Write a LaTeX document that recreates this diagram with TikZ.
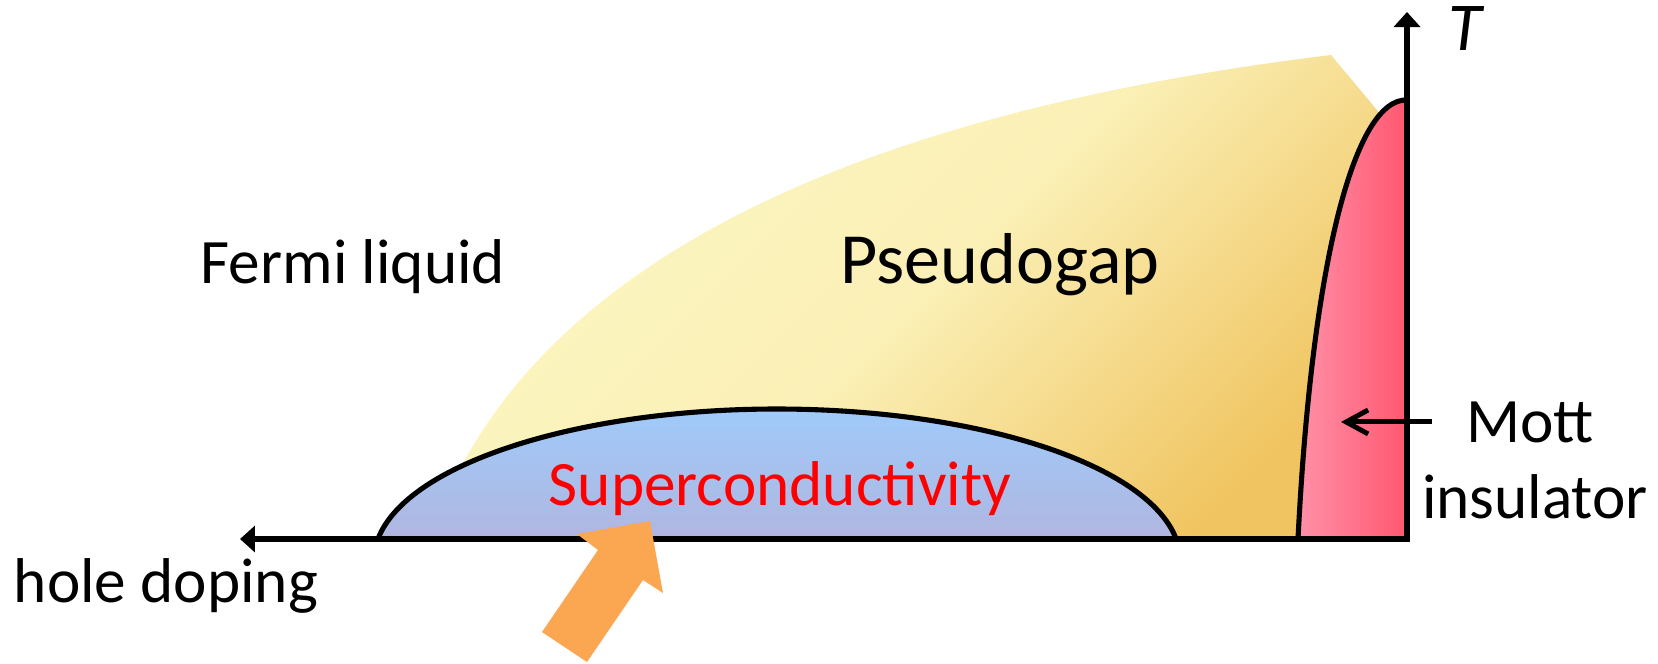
\documentclass[tikz,border=0pt]{standalone}
\usepackage{fontspec}
\setmainfont{Carlito}
\usepackage{tikz}
\usetikzlibrary{arrows.meta}
\definecolor{mylight}{RGB}{252,246,194}
\definecolor{mydark}{RGB}{240,196,96}
\definecolor{mysky}{RGB}{158,204,252}
\definecolor{mylilac}{RGB}{176,182,224}
\definecolor{mypink}{RGB}{255,144,168}
\definecolor{myrose}{RGB}{255,88,112}
\definecolor{myorange}{RGB}{251,167,82}
\definecolor{myred}{RGB}{255,0,0}

\begin{document}
\begin{tikzpicture}[font=\fontsize{18}{22}\selectfont,
  every node/.style={inner sep=0pt},
  phase/.style={draw=black,line width=1.45pt}]
  \useasboundingbox (-14.07,-1.24) rectangle (2.51,5.39);
  % pseudogap region
  \shade[top color=mylight,bottom color=mydark,middle color=mylight!88!mydark,shading angle=45]
    (-9.77,0) .. controls (-8.8,2.9) and (-5.2,4.3) .. (-0.76,4.84)
    -- (0,3.93) -- (0,0) -- cycle;
  % Mott insulator
  \draw[phase,left color=mypink,right color=myrose]
    (-1.09,0) .. controls (-0.95,2.79) and (-0.52,4.41) .. (0,4.39) -- (0,0) -- cycle;
  % superconducting dome
  \draw[phase,top color=mysky,bottom color=mylilac]
    (-10.29,0) arc[start angle=172,end angle=8,x radius=4.03,y radius=1.51] -- cycle;

  % axes
  \coordinate (O) at (0,0);
  \coordinate (Ttop) at (0,5.27);
  \coordinate (dopend) at (-11.67,0);
  \draw[line width=1.45pt,{Triangle[length=0.15cm,width=0.26cm]}-{Triangle[length=0.15cm,width=0.26cm]}]
    (dopend) -- (O) -- (Ttop);

  % big orange arrow
  \fill[myorange] (-8.65,-0.93) -- (-8.20,-1.23) -- (-7.64,-0.41) -- (-7.44,-0.54)
    -- (-7.57,0.18) -- (-8.30,0.05) -- (-8.09,-0.11) -- cycle;

  % labels
  \node[font=\fontsize{19.5}{22}\selectfont\itshape] (tlabel) at (0.58,5.10) {T};
  \node[anchor=base] (dop) at (-12.41,-0.63) {hole doping};
  \node[anchor=base] (fermi) at (-10.54,2.56) {Fermi liquid};
  \node[anchor=base,font=\fontsize{20.5}{24}\selectfont] (pseudo) at (-4.07,2.56) {Pseudogap};
  \node[anchor=base,text=myred] (sc) at (-6.27,0.34) {Superconductivity};
  \node[anchor=base] (mott) at (1.23,0.97) {Mott};
  \node[anchor=base] (insul) at (1.28,0.21) {insulator};
  \coordinate (mottpt) at (-0.66,1.19);
  \draw[line width=1.4pt,-{Straight Barb[length=0.22cm,width=0.24cm]},shorten <=0.34cm]
    (mott.west) -- (mott.west -| mottpt);
\end{tikzpicture}
\end{document}
